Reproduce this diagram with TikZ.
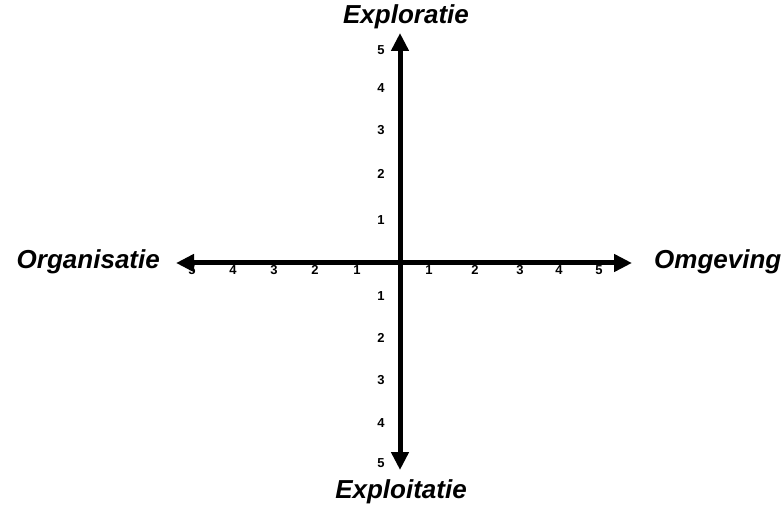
\documentclass[tikz,border=0pt]{standalone}
\usepackage{fontspec}
\setmainfont{Liberation Sans}
\usetikzlibrary{arrows.meta}
\tikzset{
  axis/.style={line width=5pt, {Triangle[length=18pt,width=17pt]}-{Triangle[length=18pt,width=17pt]}},
  axislabel/.style={font=\fontsize{26}{31}\selectfont\bfseries\itshape, inner sep=0pt},
  ticklabel/.style={font=\fontsize{13}{15}\selectfont\bfseries, inner sep=0pt}
}
\begin{document}
\begin{tikzpicture}[x=1pt,y=1pt]
  \useasboundingbox (0,0) rectangle (784,512);
  \coordinate (L) at (176,249);
  \coordinate (R) at (632,249);
  \coordinate (T) at (400,479);
  \coordinate (B) at (400,42);
  \draw[axis] (L) -- (R);
  \draw[axis] (T) -- (B);
  % labels of the axes
  \node[axislabel] (expl) at (406,495) {Exploratie};
  \node[axislabel] (explt) at (401,20) {Exploitatie};
  \node[axislabel, anchor=east] (org) at (160,250) {Organisatie};
  \node[axislabel, anchor=west] (omg) at (654,250) {Omgeving};
  % tick numbers
  \foreach \x/\n in {192/5, 233/4, 274/3, 315/2, 357/1, 429/1, 475/2, 520/3, 559/4, 599/5}
    \node[ticklabel] (h\x) at (\x,242) {\n};
  \foreach \y/\n in {462/5, 424/4, 382/3, 338/2, 292/1, 216/1, 174/2, 132/3, 89/4, 49/5}
    \node[ticklabel] (v\y) at (381,\y) {\n};
\end{tikzpicture}
\end{document}
